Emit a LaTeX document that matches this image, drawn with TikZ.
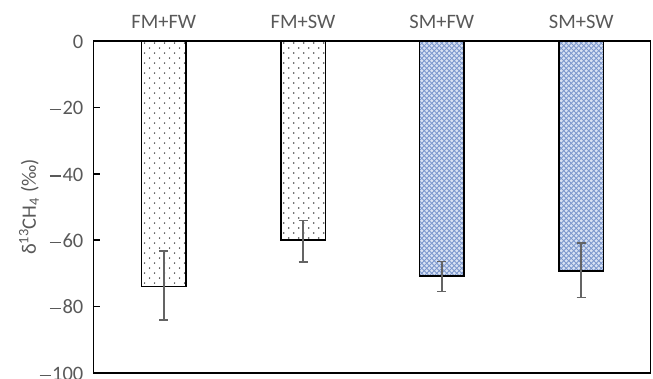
\documentclass[tikz,border=0pt]{standalone}
\usepackage{fontspec}
\setmainfont{Carlito}
\newcommand{\mymin}{\rule[4.4pt]{11pt}{1.3pt}\hspace{1.6pt}}
\begin{document}
\begin{tikzpicture}[x=1pt,y=-1pt,
  txt/.style={text=textgray,font=\fontsize{20.5}{24}\selectfont,inner sep=0pt},
  frame/.style={draw=black,line width=1.5pt},
  barbox/.style={draw=black,line width=1.5pt},
  errbar/.style={draw=errgray,line width=1.5pt}]
\definecolor{textgray}{RGB}{89,89,89}
\definecolor{errgray}{RGB}{100,100,100}
\definecolor{dotgray}{RGB}{70,70,70}
\definecolor{hatchfill}{RGB}{218,227,244}
\definecolor{hatchline}{RGB}{125,152,205}
\useasboundingbox (0,0) rectangle (653,378);
\def\bw{44.5}
% FM bars (dots)
\foreach \cx/\v in {163.8/-74, 303/-60}{
  \begin{scope}
    \clip ({\cx-\bw/2},41) rectangle ({\cx+\bw/2},{41-3.32*\v});
    \foreach \j in {0,...,50}{
      \pgfmathsetmacro{\yy}{43+5*\j}
      \pgfmathsetmacro{\off}{mod(\j,2)*5}
      \foreach \i in {0,...,5}{
        \fill[dotgray] ({\cx-\bw/2+3+\off+10*\i},\yy) circle (0.8);
      }
    }
  \end{scope}
  \draw[barbox] ({\cx-\bw/2},41) rectangle ({\cx+\bw/2},{41-3.32*\v});
}
% SM bars (crosshatch)
\foreach \cx/\v in {441.8/-70.8, 581.2/-69.2}{
  \begin{scope}
    \clip ({\cx-\bw/2},41) rectangle ({\cx+\bw/2},{41-3.32*\v});
    \fill[hatchfill] ({\cx-\bw/2},41) rectangle ({\cx+\bw/2},{41-3.32*\v});
    \foreach \k in {-60,...,12}{
      \draw[hatchline,line width=0.9pt] ({\cx-\bw/2+5*\k},41) -- ++(260,260);
      \draw[hatchline,line width=0.9pt] ({\cx+\bw/2-5*\k},41) -- ++(-260,260);
    }
  \end{scope}
  \draw[barbox] ({\cx-\bw/2},41) rectangle ({\cx+\bw/2},{41-3.32*\v});
}
% error bars
\foreach \cx/\lo/\hi in {163.8/-63.3/-84, 303/-54.1/-66.5, 441.8/-66.4/-75.5, 581.2/-60.9/-77.2}{
  \coordinate (eu) at (\cx,{41-3.32*\lo});
  \coordinate (ed) at (\cx,{41-3.32*\hi});
  \draw[errbar] (eu) -- (ed);
  \draw[errbar] ([xshift=-4.5pt]eu) -- ([xshift=4.5pt]eu);
  \draw[errbar] ([xshift=-4.5pt]ed) -- ([xshift=4.5pt]ed);
}
% frame
\draw[frame] (93.5,41) rectangle (650.5,373.2);
% ticks and tick labels
\foreach \v in {0,-20,-40,-60,-80,-100}{
  \coordinate (t\v) at (93.5,{41-3.32*\v});
  \node[txt,anchor=base east] (l\v) at ([xshift=-10pt,yshift=-7.2pt]t\v) {\ifnum\v<0 \mymin\number-\v\else\v\fi};
}
\foreach \v in {-20,-40,-60,-80}{
  \draw[frame] (t\v) -- ++(6,0);
}
% category labels
\node[txt,anchor=base] (c1) at (163.8,28.5) {FM+FW};
\node[txt,anchor=base] (c2) at (303,28.5) {FM+SW};
\node[txt,anchor=base] (c3) at (441.8,28.5) {SM+FW};
\node[txt,anchor=base] (c4) at (581.2,28.5) {SM+SW};
% y label
\node[txt,rotate=90] (ylab) at (29,207) {δ\textsuperscript{13}CH\textsubscript{4} (‰)};
\end{tikzpicture}
\end{document}
